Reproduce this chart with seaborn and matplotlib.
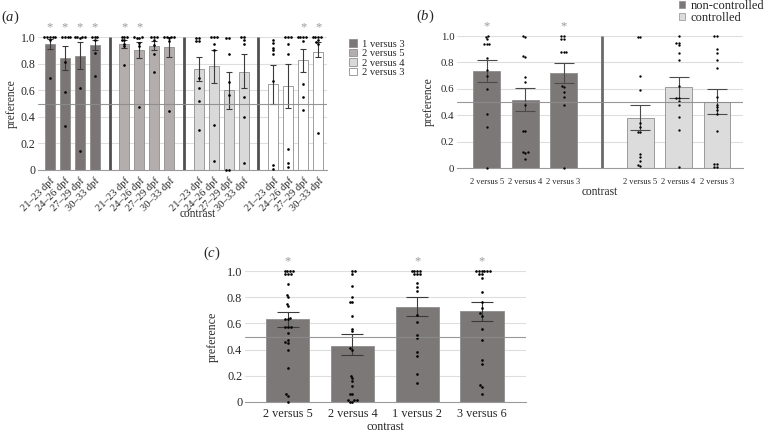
import matplotlib
matplotlib.use("Agg")
import matplotlib.pyplot as plt
import seaborn as sns
import numpy as np
import pandas as pd
from matplotlib.patches import Patch

sns.set_style("white")
plt.rcParams["font.family"] = ["Liberation Serif", "DejaVu Serif"]
plt.rcParams["mathtext.fontset"] = "custom"
plt.rcParams["mathtext.rm"] = "Liberation Serif"
plt.rcParams["mathtext.it"] = "Liberation Serif:italic"

# ---------------- data: panel (a) ----------------
a_groups = ["1 versus 3", "2 versus 5", "2 versus 4", "2 versus 3"]
a_ages = ["21–23 dpf", "24–26 dpf", "27–29 dpf", "30–33 dpf"]
a_means = [0.95, 0.84, 0.86, 0.937,
           0.947, 0.905, 0.932, 0.925,
           0.76, 0.78, 0.598, 0.74,
           0.647, 0.63, 0.825, 0.885]
a_err_lo = [0.912, 0.754, 0.76, 0.905,
            0.915, 0.84, 0.90, 0.85,
            0.666, 0.653, 0.455, 0.613,
            0.50, 0.465, 0.74, 0.85]
a_err_hi = [0.987, 0.93, 0.96, 0.98,
            0.975, 0.962, 0.97, 1.0,
            0.85, 0.90, 0.74, 0.87,
            0.79, 0.80, 0.91, 0.965]
a_sig = [True, True, True, True,
         True, True, False, False,
         False, False, False, False,
         False, False, True, True]
a_points = [
    [1, 1, 1, 1, 1, 0.98, 0.69],
    [1, 1, 1, 1, 0.81, 0.59, 0.33],
    [1, 1, 1, 1, 0.99, 0.62, 0.14],
    [1, 1, 1, 0.975, 0.88, 0.71],
    [1, 1, 1, 0.975, 0.975, 0.95, 0.93, 0.79],
    [1, 1, 0.99, 0.99, 0.955, 0.93, 0.47],
    [1, 1, 1, 0.975, 0.94, 0.87, 0.74],
    [1, 1, 1, 1, 0.99, 0.97, 0.445],
    [0.995, 0.995, 0.97, 0.97, 0.69, 0.62, 0.52, 0.30],
    [1, 1, 1, 0.95, 0.90, 0.34, 0.07],
    [0.995, 0.99, 0.87, 0.66, 0.565, 0.0, 0.0],
    [1, 1, 0.98, 0.95, 0.55, 0.40, 0.05],
    [0.98, 0.955, 0.92, 0.90, 0.87, 0.67, 0.04, 0.01],
    [1, 1, 1, 0.95, 0.87, 0.16, 0.05, 0.025],
    [1, 1, 1, 1, 0.97, 0.65, 0.55, 0.45],
    [1, 1, 1, 1, 0.98, 0.965, 0.95, 0.28],
]
a_colors = ["#7b7575", "#b4adad", "#d9d9d9", "#ffffff"]

# ---------------- data: panel (b) ----------------
b_conditions = ["non-controlled", "controlled"]
b_contrasts = ["2 versus 5", "2 versus 4", "2 versus 3"]
b_means = [0.735, 0.515, 0.72,
           0.38, 0.61, 0.50]
b_err_lo = [0.655, 0.43, 0.645,
            0.287, 0.528, 0.41]
b_err_hi = [0.815, 0.605, 0.795,
            0.477, 0.687, 0.597]
b_sig = [True, False, True, False, False, False]
b_points = [
    [1.0, 0.99, 0.975, 0.94, 0.94, 0.94, 0.83, 0.74, 0.70, 0.60, 0.41, 0.31, 0.0],
    [1.0, 0.99, 0.85, 0.84, 0.69, 0.655, 0.48, 0.28, 0.28, 0.12, 0.12, 0.115, 0.07],
    [1.0, 1.0, 0.98, 0.98, 0.88, 0.88, 0.88, 0.62, 0.61, 0.575, 0.535, 0.48, 0.0],
    [0.995, 0.99, 0.70, 0.59, 0.34, 0.31, 0.27, 0.27, 0.106, 0.08, 0.055, 0.02, 0.015],
    [1.0, 0.95, 0.95, 0.93, 0.87, 0.82, 0.62, 0.53, 0.53, 0.51, 0.48, 0.39, 0.29, 0.005],
    [1.0, 1.0, 0.90, 0.87, 0.82, 0.76, 0.54, 0.48, 0.46, 0.44, 0.41, 0.28, 0.03, 0.03, 0.01, 0.01],
]
b_colors = ["#7d7878", "#dcdcdc"]

# ---------------- data: panel (c) ----------------
c_contrasts = ["2 versus 5", "2 versus 4", "1 versus 2", "3 versus 6"]
c_means = [0.63, 0.43, 0.728, 0.695]
c_err_lo = [0.57, 0.356, 0.66, 0.62]
c_err_hi = [0.685, 0.517, 0.80, 0.765]
c_sig = [True, False, True, True]
c_points = [
    [1, 1, 1, 1, 0.98, 0.98, 0.98, 0.90, 0.82, 0.80, 0.75, 0.73, 0.64, 0.63, 0.63,
     0.57, 0.57, 0.57, 0.53, 0.47, 0.46, 0.45, 0.40, 0.26, 0.06, 0.045, 0.0],
    [1, 1, 0.98, 0.885, 0.80, 0.76, 0.76, 0.655, 0.56, 0.54, 0.41, 0.40, 0.20,
     0.185, 0.16, 0.12, 0.06, 0.06, 0.015, 0.015, 0.015, 0.0, 0.0],
    [1, 1, 1, 1, 0.975, 0.975, 0.975, 0.905, 0.875, 0.847, 0.663, 0.607, 0.51,
     0.49, 0.383, 0.35, 0.21, 0.145],
    [1, 1, 1, 1, 1, 1, 0.98, 0.98, 0.95, 0.84, 0.765, 0.714, 0.676, 0.66, 0.56,
     0.477, 0.32, 0.29, 0.128, 0.115, 0.06],
]
c_color = "#7d7878"

yticks = [0, 0.2, 0.4, 0.6, 0.8, 1.0]
ytick_labels = ["0", "0.2", "0.4", "0.6", "0.8", "1.0"]

EDGE = "#8e8e8e"


def draw_panel(ax, pos, means, lo, hi, colors, points, sig, width, capsize,
               ecolor, dot_size, star_size):
    keys = [f"k{i}" for i in range(len(pos))]
    dfb = pd.DataFrame({"pos": pos, "mean": means, "key": keys})
    sns.barplot(data=dfb, x="pos", y="mean", hue="key", palette=dict(zip(keys, colors)),
                native_scale=True, dodge=False, width=width, saturation=1,
                edgecolor=EDGE, linewidth=0.6, errorbar=None, legend=False,
                ax=ax, zorder=2)
    means = np.asarray(means)
    ax.errorbar(pos, means, yerr=[means - np.asarray(lo), np.asarray(hi) - means],
                fmt="none", ecolor=ecolor, elinewidth=0.8, capsize=capsize,
                capthick=0.8, zorder=5)
    pts = pd.DataFrame({"pos": np.repeat(pos, [len(p) for p in points]),
                        "val": np.concatenate([np.asarray(p, float) for p in points])})
    sns.swarmplot(data=pts, x="pos", y="val", native_scale=True, color="black",
                  size=dot_size, linewidth=0, ax=ax, zorder=6, clip_on=False,
                  warn_thresh=1)
    for x, s in zip(pos, sig):
        if s:
            ax.text(x, 1.075, "*", ha="center", va="center", fontsize=star_size,
                    color="#9a9a9a", clip_on=False)
    ax.set_ylim(0, 1.0)
    ax.set_yticks(yticks)
    ax.grid(False)
    for y in yticks[1:]:
        ax.axhline(y, color="#dedede", lw=0.8, zorder=0.5)
    ax.axhline(0.5, color="#8c8c8c", lw=0.8, zorder=7, alpha=0.9)
    for sp in ["top", "right", "left"]:
        ax.spines[sp].set_visible(False)
    ax.spines["bottom"].set_color("#9a9a9a")
    ax.spines["bottom"].set_linewidth(0.8)
    ax.tick_params(axis="y", length=0, pad=2)
    ax.set_xlabel("")
    ax.set_ylabel("")


def place_labels(ax, xlab_xy, ylab_xy, fs):
    ax.set_xlabel("contrast", fontsize=fs)
    ax.set_ylabel("preference", fontsize=fs)
    ax.xaxis.set_label_coords(*xlab_xy)
    ax.yaxis.set_label_coords(*ylab_xy)
    ax.xaxis.label.set_va("center")
    ax.yaxis.label.set_va("center")


fig = plt.figure(figsize=(7.71, 4.34), dpi=100)
fig.patch.set_facecolor("white")

# ---------------- panel (a) ----------------
axA = fig.add_axes([38 / 771, 1 - 170 / 434, 289 / 771, 133 / 434])
a_pos = [g * 5 + i for g in range(len(a_groups)) for i in range(len(a_ages))]
a_bar_colors = [a_colors[g] for g in range(len(a_groups)) for _ in a_ages]
draw_panel(axA, a_pos, a_means, a_err_lo, a_err_hi, a_bar_colors, a_points, a_sig,
           width=0.67, capsize=2.5, ecolor="#3a3a3a", dot_size=1.9, star_size=9)
for g in range(1, len(a_groups)):
    axA.plot([g * 5 - 1, g * 5 - 1], [0, 1.0], color="#505050", lw=2.0, zorder=3,
             solid_capstyle="butt")
axA.set_xlim(-0.8, 18.6)
axA.set_xticks(a_pos)
axA.set_xticklabels([a for _ in a_groups for a in a_ages], rotation=45, ha="right",
                    rotation_mode="anchor", fontsize=7.6)
axA.tick_params(axis="x", length=2, width=0.6, color="#9a9a9a", pad=2)
axA.set_yticklabels(ytick_labels, fontsize=8.5)
place_labels(axA, (0.552, (170 - 214) / 133), (-0.09, 0.5), 8.3)
fig.legend(handles=[Patch(facecolor=c, edgecolor=EDGE, lw=0.6, label=g)
                    for g, c in zip(a_groups, a_colors)],
           loc="upper left", bbox_to_anchor=(349 / 771, 1 - 39 / 434), frameon=False,
           fontsize=7.6, handlelength=0.75, handleheight=0.75, handletextpad=0.45,
           labelspacing=0.0, borderpad=0, borderaxespad=0)
fig.text(10 / 771, 1 - 17 / 434, r"($a$)", fontsize=10.5, ha="center", va="center")

# ---------------- panel (b) ----------------
axB = fig.add_axes([457 / 771, 1 - 168 / 434, 286 / 771, 132 / 434])
b_pos = [c * 4 + i for c in range(len(b_conditions)) for i in range(len(b_contrasts))]
b_bar_colors = [b_colors[c] for c in range(len(b_conditions)) for _ in b_contrasts]
draw_panel(axB, b_pos, b_means, b_err_lo, b_err_hi, b_bar_colors, b_points, b_sig,
           width=0.7, capsize=7.0, ecolor="#4a4a4a", dot_size=1.7, star_size=9)
axB.plot([3, 3], [0, 1.0], color="#6a6a6a", lw=2.0, zorder=3, solid_capstyle="butt")
axB.set_xlim(-0.78, 6.68)
axB.set_xticks(b_pos)
axB.set_xticklabels([c for _ in b_conditions for c in b_contrasts], fontsize=6)
axB.tick_params(axis="x", length=0, pad=7)
axB.set_yticklabels(ytick_labels, fontsize=7.8)
place_labels(axB, (0.5, (168 - 192) / 132), (-0.098, 0.5), 8.3)
fig.legend(handles=[Patch(facecolor=c, edgecolor=EDGE, lw=0.5, label=l)
                    for l, c in zip(b_conditions, b_colors)],
           loc="upper left", bbox_to_anchor=(679 / 771, 1 - 0 / 434), frameon=False,
           fontsize=9, handlelength=0.5, handleheight=0.5, handletextpad=0.45,
           labelspacing=0.0, borderpad=0, borderaxespad=0)
fig.text(425 / 771, 1 - 16 / 434, r"($b$)", fontsize=10.5, ha="center", va="center")

# ---------------- panel (c) ----------------
axC = fig.add_axes([245 / 771, 1 - 402 / 434, 281 / 771, 131 / 434])
c_pos = list(range(len(c_contrasts)))
draw_panel(axC, c_pos, c_means, c_err_lo, c_err_hi, [c_color] * len(c_pos), c_points,
           c_sig, width=0.67, capsize=8.0, ecolor="#3a3a3a", dot_size=1.9, star_size=9)
axC.set_xlim(-0.66, 3.68)
axC.set_xticks(c_pos)
axC.set_xticklabels(c_contrasts, fontsize=8.8)
axC.tick_params(axis="x", length=0, pad=4)
axC.set_yticklabels(ytick_labels, fontsize=8.8)
place_labels(axC, (0.498, (402 - 427) / 131), (-0.114, 0.5), 8.6)
fig.text(212 / 771, 1 - 253 / 434, r"($c$)", fontsize=10.5, ha="center", va="center")

fig.savefig("out.png", dpi=100, facecolor="white")
